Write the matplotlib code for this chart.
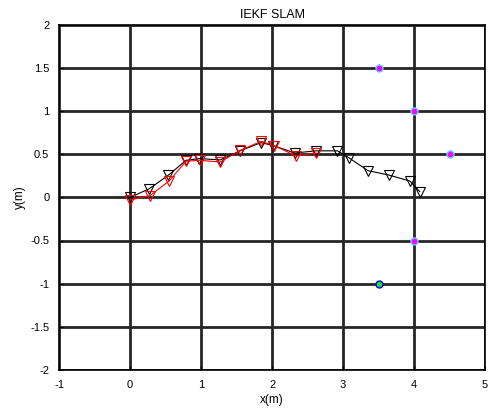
import numpy as np
import matplotlib.pyplot as plt

plt.rcParams['font.family'] = ['Liberation Sans', 'DejaVu Sans']

# ------------------------------------------------------------
# data
# ------------------------------------------------------------
true_x = [0.00, 0.27, 0.535, 0.79, 0.975, 1.27, 1.55, 1.845, 2.02, 2.32,
          2.62, 2.92, 3.09, 3.35, 3.64, 3.94, 4.08]
true_y = [0.00, 0.10, 0.255, 0.43, 0.45, 0.435, 0.54, 0.635, 0.60, 0.515,
          0.54, 0.54, 0.455, 0.31, 0.26, 0.19, 0.067]

est_x = [0.00, 0.28, 0.55, 0.79, 0.98, 1.27, 1.55, 1.845, 2.03, 2.34, 2.62]
est_y = [-0.03, 0.02, 0.19, 0.42, 0.43, 0.41, 0.545, 0.65, 0.60, 0.48, 0.515]

lm_x = [3.5, 4.0, 4.5, 4.0]
lm_y = [1.5, 1.0, 0.5, -0.5]

seen_x = [3.5]
seen_y = [-1.0]

# ------------------------------------------------------------
# plot
# ------------------------------------------------------------
fig = plt.figure(figsize=(4.92, 4.16), dpi=100)
ax = fig.add_axes([0.12, 0.111, 0.866, 0.829])

ax.grid(True, color="#262626", linewidth=2.0)
ax.set_axisbelow(True)

ax.plot(true_x, true_y, color="black", linewidth=0.8, marker="v",
        markersize=7, markerfacecolor="none", markeredgecolor="black",
        markeredgewidth=0.8, zorder=3)
ax.plot(est_x, est_y, color="red", linewidth=0.8, marker="v",
        markersize=7, markerfacecolor="none", markeredgecolor="red",
        markeredgewidth=0.8, zorder=4)

ax.plot(lm_x, lm_y, linestyle="none", marker="o", markersize=5,
        markerfacecolor="magenta", markeredgecolor="#66ccff",
        markeredgewidth=1.0, zorder=5)
ax.plot(lm_x, lm_y, linestyle="none", marker="*", markersize=6,
        color="#3399ff", markeredgewidth=0.5, zorder=4)
ax.plot(seen_x, seen_y, linestyle="none", marker="o", markersize=5,
        markerfacecolor="#22dd22", markeredgecolor="blue",
        markeredgewidth=1.0, zorder=5)

ax.set_xlim(-1, 5)
ax.set_ylim(-2, 2)
ax.set_xticks(np.arange(-1, 6, 1))
ax.set_yticks(np.arange(-2, 2.5, 0.5))
ax.set_xticklabels(["-1", "0", "1", "2", "3", "4", "5"])
ax.set_yticklabels(["-2", "-1.5", "-1", "-0.5", "0", "0.5", "1", "1.5", "2"])
ax.tick_params(direction="in", length=3, labelsize=8, pad=7, color="black")

for s in ax.spines.values():
    s.set_color("black")
    s.set_linewidth(1.2)

ax.set_title("IEKF SLAM", fontsize=9, pad=5)
ax.set_xlabel("x(m)", fontsize=8.5, labelpad=3)
ax.set_ylabel("y(m)", fontsize=8.5, labelpad=3)

fig.savefig("out.png", dpi=100)
